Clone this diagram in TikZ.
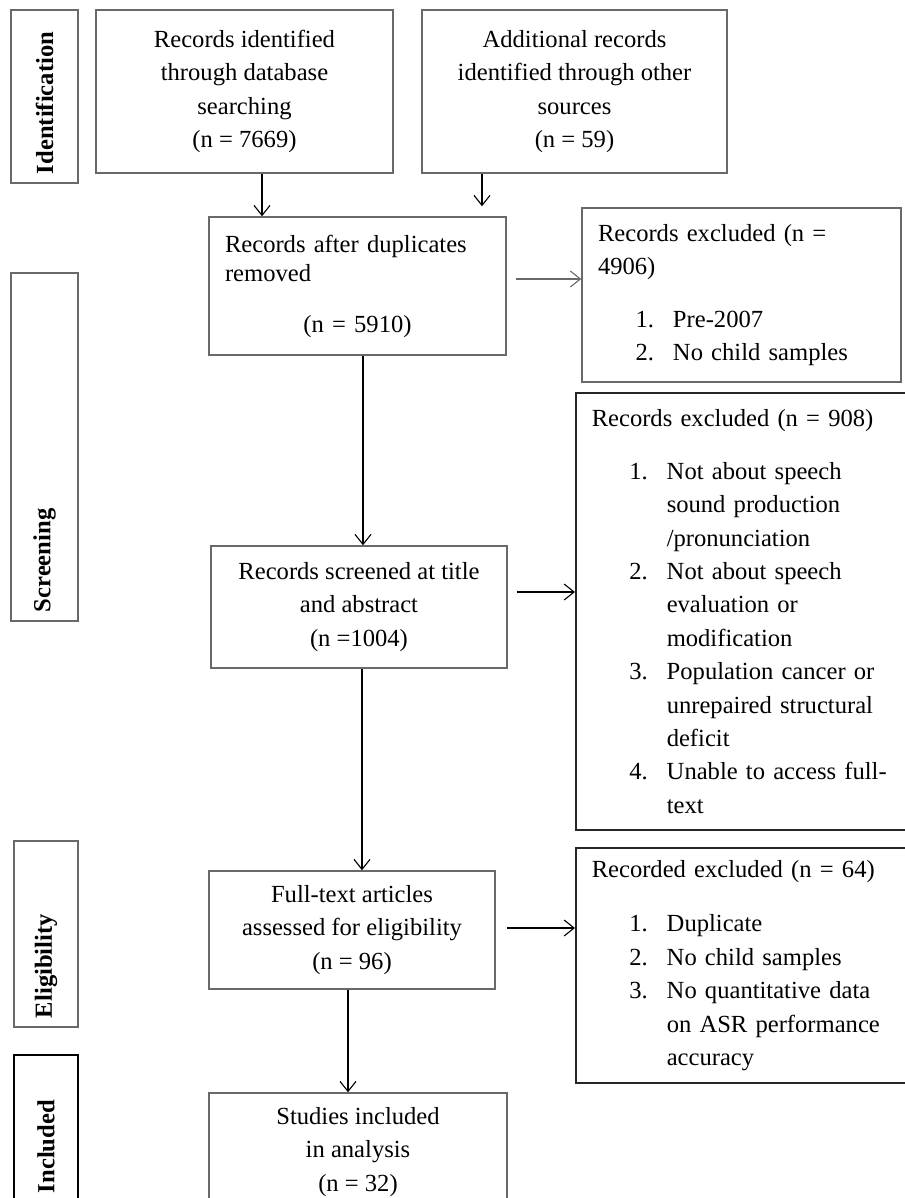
\documentclass[tikz,border=0pt]{standalone}
\usepackage{fontspec}
\setmainfont{Liberation Serif}
\usetikzlibrary{arrows.meta, positioning}
\newlength\pxu
\setlength\pxu{0.02cm}
\newcommand\lnum[2]{\makebox[56\pxu][r]{#1}\hspace{19\pxu}#2}
\newcommand\lcont[1]{\hspace*{75\pxu}#1}
\definecolor{boxgray}{RGB}{105,105,105}

\begin{document}
\begin{tikzpicture}[x=0.02cm, y=-0.02cm,
  >={Straight Barb[length=2mm, width=3.2mm]},
  every node/.style={font=\fontsize{14}{19}\selectfont},
  box/.style={draw=boxgray, line width=0.3mm, inner sep=0pt, align=center},
  listbox/.style={draw=black!85, line width=0.3mm, anchor=west, inner xsep=3.2mm, inner ysep=0pt, align=left},
  side/.style={draw=boxgray, line width=0.3mm, rotate=90, inner xsep=1.8mm, inner ysep=0pt, align=left, font=\fontsize{14}{19}\selectfont\bfseries},
  arr/.style={->, line width=0.22mm}]
  \useasboundingbox (0,0) rectangle (905,1198);
  \clip (0,0) rectangle (905,1198);

  % Stage labels
  \node[side, minimum width=173\pxu, minimum height=67\pxu, text width=155\pxu] (idlab) at (44.5,96.5) {Identification};
  \node[side, minimum width=348\pxu, minimum height=67\pxu, text width=330\pxu] (scrlab) at (44.5,447) {Screening};
  \node[side, minimum width=186\pxu, minimum height=64\pxu, text width=168\pxu] (ellab) at (46,934) {Eligibility};
  \node[side, draw=black, minimum width=147\pxu, minimum height=64\pxu, text width=129\pxu] (inlab) at (46,1128.5) {Included};

  % Main flow
  \node[box, minimum width=297\pxu, minimum height=163\pxu] (srch) at (244.5,91.5) {Records identified\\through database\\searching\\(n = 7669)};
  \node[box, minimum width=305\pxu, minimum height=163\pxu] (other) at (574.5,91.5) {Additional records\\identified through other\\sources\\(n = 59)};
  \node[box, minimum width=297\pxu, minimum height=138\pxu, text width=265\pxu, align=left] (dup) at (357.5,286) {Records after duplicates\\[-2.5pt]removed\\[10pt]\makebox[\linewidth]{(n = 5910)}};
  \node[box, minimum width=296\pxu, minimum height=122\pxu] (scr) at (359,607) {Records screened at title\\and abstract\\(n =1004)};
  \node[box, minimum width=286\pxu, minimum height=118\pxu] (full) at (352,930) {Full-text articles\\assessed for eligibility\\(n = 96)};
  \node[box, minimum width=298\pxu, minimum height=118\pxu] (incl) at (358,1152) {Studies included\\in analysis\\(n = 32)};

  % Exclusions
  \node[box, minimum width=319\pxu, minimum height=174\pxu, text width=287\pxu, align=left] (exdup) at (741.5,295) {Records excluded (n =\\4906)\\[11pt]\lnum{1.}{Pre-2007}\\\lnum{2.}{No child samples}};
  \node[listbox, minimum width=360\pxu, minimum height=437\pxu, text width=328\pxu] (exscr) at (575,611.5) {Records excluded (n = 908)\\[11pt]\lnum{1.}{Not about speech}\\\lcont{sound production}\\\lcont{/pronunciation}\\\lnum{2.}{Not about speech}\\\lcont{evaluation or}\\\lcont{modification}\\\lnum{3.}{Population cancer or}\\\lcont{unrepaired structural}\\\lcont{deficit}\\\lnum{4.}{Unable to access full-}\\\lcont{text}};
  \node[listbox, minimum width=360\pxu, minimum height=235\pxu, text width=328\pxu] (exfull) at (575,965.5) {Recorded excluded (n = 64)\\[12pt]\lnum{1.}{Duplicate}\\\lnum{2.}{No child samples}\\\lnum{3.}{No quantitative data}\\\lcont{on ASR performance}\\\lcont{accuracy}};

  % Arrows
  \draw[arr] (srch.south -| 262,0) -- (dup.north -| 262,0);
  \draw[arr, shorten >=2mm] (other.south -| 482,0) -- (dup.north -| 482,0);
  \draw[arr, draw=boxgray, shorten <=1.8mm] (dup.east |- 0,279) -- (exdup.west |- 0,279);
  \draw[arr] (dup.south -| 363,0) -- (scr.north -| 363,0);
  \draw[arr, shorten <=1.8mm] (scr.east |- 0,592) -- (exscr.west |- 0,592);
  \draw[arr] (scr.south -| 362,0) -- (full.north -| 362,0);
  \draw[arr, shorten <=2.2mm] (full.east |- 0,928) -- (exfull.west |- 0,928);
  \draw[arr] (full.south -| 348,0) -- (incl.north -| 348,0);
\end{tikzpicture}
\end{document}
